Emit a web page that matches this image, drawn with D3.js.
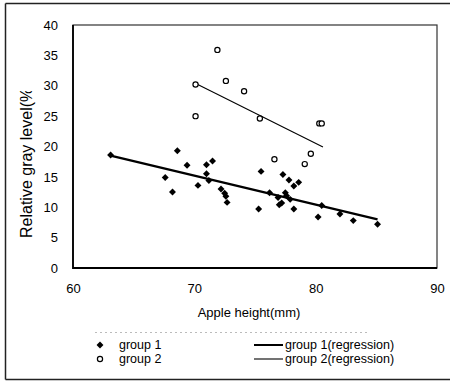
<!DOCTYPE html>
<html><head><meta charset="utf-8">
<script src="https://cdn.jsdelivr.net/npm/d3@7"></script>
<style>html,body{margin:0;padding:0;background:#fff;}svg{display:block;font-family:"Liberation Sans",Arial,sans-serif;}</style>
</head><body>
<script>
// Data
const group1X = [63.1, 67.6, 68.2, 68.6, 69.4, 70.3, 71.0, 71.5, 71.0, 71.2, 72.2, 72.5, 72.6, 72.7,
                 75.3, 75.5, 76.2, 76.9, 77.0, 77.2, 77.3, 77.5, 77.6, 77.9, 77.8, 78.2, 78.6, 78.2,
                 80.2, 80.5, 82.0, 83.1, 85.1];
const group1Y = [18.6, 14.9, 12.5, 19.3, 16.9, 13.6, 17.0, 17.6, 15.5, 14.4, 13.0, 12.3, 11.8, 10.8,
                 9.7, 15.9, 12.4, 11.6, 10.4, 10.7, 15.4, 12.4, 11.9, 11.3, 14.5, 13.5, 14.1, 9.7,
                 8.4, 10.3, 8.9, 7.8, 7.2];
const group2X = [71.9, 70.1, 72.6, 74.1, 70.1, 75.4, 80.3, 80.5, 76.6, 79.6, 79.1];
const group2Y = [35.9, 30.2, 30.8, 29.1, 25.0, 24.6, 23.8, 23.8, 17.9, 18.8, 17.1];
const reg1X = [63.1, 85.1];
const reg1Y = [18.5, 8.0];
const reg2X = [70.2, 80.6];
const reg2Y = [30.3, 19.9];
const xTicks = [60, 70, 80, 90];
const yTicks = [0, 5, 10, 15, 20, 25, 30, 35, 40];
const legendLabels = ["group 1", "group 2", "group 1(regression)", "group 2(regression)"];
const xTitle = "Apple height(mm)";
const yTitle = "Relative gray level(%)";

const W = 450, H = 381;
const svg = d3.select("body").append("svg").attr("width", W).attr("height", H);

// outer frame (left, top, bottom)
svg.append("path").attr("d", "M5.5,3.5H450 M5.5,3.5V379.5 M5.5,379.5H450")
  .attr("fill", "none").attr("stroke", "#222").attr("stroke-width", 1.5);

const x = d3.scaleLinear().domain([60, 90]).range([73, 437]);
const y = d3.scaleLinear().domain([0, 40]).range([268, 25]);

// plot box
svg.append("rect").attr("x", x(60)).attr("y", y(40)).attr("width", x(90) - x(60)).attr("height", y(0) - y(40))
  .attr("fill", "none").attr("stroke", "#333").attr("stroke-width", 1.2);
svg.append("path").attr("d", `M${x(60)},${y(40)}V${y(0)}H${x(90)}`)
  .attr("fill", "none").attr("stroke", "#000").attr("stroke-width", 1.8);

// axes (labels only)
const yAxis = svg.append("g").attr("transform", `translate(${x(60)},0)`)
  .call(d3.axisLeft(y).tickValues(yTicks).tickSize(0).tickPadding(15));
yAxis.select(".domain").remove();
yAxis.selectAll("text").attr("font-size", 13).attr("fill", "#000").attr("font-family", "Liberation Sans, Arial, sans-serif");

const xAxis = svg.append("g").attr("transform", `translate(0,${y(0)})`)
  .call(d3.axisBottom(x).tickValues(xTicks).tickSize(0).tickPadding(16));
xAxis.select(".domain").remove();
xAxis.selectAll("text").attr("font-size", 13).attr("fill", "#000").attr("font-family", "Liberation Sans, Arial, sans-serif");

// axis titles
svg.append("text").attr("x", 249).attr("y", 317).attr("text-anchor", "middle")
  .attr("font-size", 13).text(xTitle);
svg.append("clipPath").attr("id", "ytclip").append("rect").attr("x", 0).attr("y", 91).attr("width", 60).attr("height", 200);
svg.append("g").attr("clip-path", "url(#ytclip)")
  .append("text").attr("transform", "translate(32,238) rotate(-90)").attr("text-anchor", "start")
  .attr("font-size", 16).text(yTitle);

// regression lines
const line = d3.line().x(d => x(d[0])).y(d => y(d[1]));
svg.append("path").datum(reg1X.map((v, i) => [v, reg1Y[i]])).attr("d", line)
  .attr("fill", "none").attr("stroke", "#000").attr("stroke-width", 2.2);
svg.append("path").datum(reg2X.map((v, i) => [v, reg2Y[i]])).attr("d", line)
  .attr("fill", "none").attr("stroke", "#000").attr("stroke-width", 1.1);

// markers
const diamond = d3.symbol(d3.symbolSquare, 24);
svg.append("g").selectAll("path").data(group1X.map((v, i) => [v, group1Y[i]])).join("path")
  .attr("d", diamond).attr("transform", d => `translate(${x(d[0])},${y(d[1])}) rotate(45)`)
  .attr("fill", "#000");
svg.append("g").selectAll("circle").data(group2X.map((v, i) => [v, group2Y[i]])).join("circle")
  .attr("cx", d => x(d[0])).attr("cy", d => y(d[1])).attr("r", 2.6)
  .attr("fill", "#fff").attr("stroke", "#000").attr("stroke-width", 1.2);

// legend
const lg = svg.append("g");
lg.append("line").attr("x1", 95).attr("x2", 368).attr("y1", 332.5).attr("y2", 332.5)
  .attr("stroke", "#bbb").attr("stroke-width", 1).attr("stroke-dasharray", "2,3");
lg.append("path").attr("d", diamond).attr("transform", "translate(100,345) rotate(45)").attr("fill", "#000");
lg.append("circle").attr("cx", 100).attr("cy", 359).attr("r", 2.6).attr("fill", "#fff").attr("stroke", "#000").attr("stroke-width", 1.2);
lg.append("text").attr("x", 119).attr("y", 349).attr("font-size", 12.5).text(legendLabels[0]);
lg.append("text").attr("x", 119).attr("y", 363).attr("font-size", 12.5).text(legendLabels[1]);
lg.append("line").attr("x1", 254).attr("x2", 283).attr("y1", 345).attr("y2", 345).attr("stroke", "#000").attr("stroke-width", 2);
lg.append("line").attr("x1", 254).attr("x2", 283).attr("y1", 359).attr("y2", 359).attr("stroke", "#000").attr("stroke-width", 1.1);
lg.append("text").attr("x", 285).attr("y", 349).attr("font-size", 12.5).text(legendLabels[2]);
lg.append("text").attr("x", 285).attr("y", 363).attr("font-size", 12.5).text(legendLabels[3]);
</script>
</body></html>
